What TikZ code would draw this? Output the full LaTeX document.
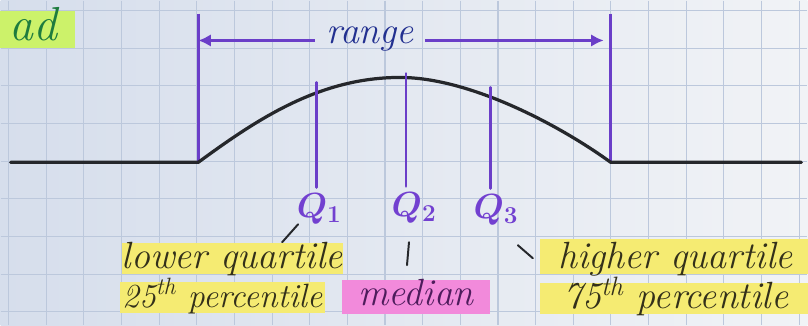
\documentclass[tikz,border=0pt]{standalone}
\usepackage{tikz}
\usetikzlibrary{positioning,arrows.meta,calc}
\definecolor{paper}{HTML}{F1F3F6}
\definecolor{paperdk}{HTML}{D6DEEC}
\definecolor{gridc}{HTML}{BCC8DC}
\definecolor{ink}{HTML}{25272B}
\definecolor{penviolet}{HTML}{6A3EC8}
\definecolor{qviolet}{HTML}{7240D0}
\definecolor{penblue}{HTML}{223090}
\definecolor{penolive}{HTML}{33301A}
\definecolor{penplum}{HTML}{4E1C5C}
\definecolor{pengreen}{HTML}{1E7C3E}
\definecolor{hlyellow}{HTML}{F5EB72}
\definecolor{hlpink}{HTML}{F28ADB}
\definecolor{hllime}{HTML}{CCF26A}
\tikzset{
  gridln/.style={draw=gridc, line width=0.8pt},
  curve/.style={draw=ink, line width=2.3pt, line cap=round, line join=round},
  rline/.style={draw=penviolet, line width=2.2pt},
  qline/.style={draw=penviolet, line width=2pt, line cap=round},
  rarrow/.style={-{Latex[length=9pt,width=9pt]}, draw=penviolet, line width=1.8pt},
  tick/.style={draw=ink, line width=1.4pt, line cap=round},
  hand/.style={font=\fontsize{27}{32}\selectfont\itshape},
  hl/.style={hand, fill=#1, text=penolive, anchor=base, inner xsep=0pt, inner ysep=0pt,
    text height=18pt, text depth=4pt},
  hl/.default=hlyellow,
  qlab/.style={text=qviolet, font=\fontsize{25}{30}\selectfont\boldmath, anchor=base west, inner sep=1pt},
}

\begin{document}
\begin{tikzpicture}[x=0.025cm,y=-0.025cm]
  % squared paper
  \shade[left color=paperdk, right color=paper] (0,0) rectangle (808,325);
  \foreach \i in {0,...,21}
    \draw[gridln] ({8+37.7*\i},0) -- ({8+37.7*\i},325);
  \foreach \j in {0,...,8}
    \draw[gridln] (0,{10+37.7*\j}) -- (808,{10+37.7*\j});
  \useasboundingbox (0,0) rectangle (808,325);

  % end of the heading
  \node[font=\fontsize{34}{40}\selectfont\itshape, fill=hllime, text=pengreen, anchor=base,
    minimum width=2.1cm, inner sep=0pt, text height=21pt, text depth=5pt] (head) at (33,40) {ad};

  % range
  \coordinate (lt) at (198,13);
  \coordinate (lb) at (198,162);
  \coordinate (rt) at (611,13);
  \coordinate (rb) at (611,162);
  \node[hand, text=penblue, anchor=base, inner xsep=8pt] (range) at (370,43) {range};
  \draw[rline] (lt) -- (lb);
  \draw[rline] (rt) -- (rb);
  \draw[rarrow] (range.mid west) -- (range.mid west -| lt);
  \draw[rarrow, shorten >=5pt] (range.mid east) -- (range.mid east -| rt);

  % the bump
  \draw[curve] (10,162) -- (lb) .. controls (258,118) and (320,77) .. (400,77)
    .. controls (470,77) and (560,125) .. (rb) -- (802,162);

  % quartiles
  \coordinate (c1) at (316,82);
  \coordinate (c2) at (406,73);
  \coordinate (c3) at (491,87);
  \node[qlab] (q1) at (295,217) {$Q_1$};
  \node[qlab] (q2) at (390,216) {$Q_2$};
  \node[qlab] (q3) at (472,218) {$Q_3$};
  \draw[qline, shorten >=3pt] (c1) -- (c1 |- q1.north);
  \draw[qline, shorten >=3pt] (c2) -- (c2 |- q2.north);
  \draw[qline, shorten >=3pt] (c3) -- (c3 |- q3.north);

  % highlighted labels
  \node[hl, minimum width=5.53cm] (lq1) at (232,268) {lower quartile};
  \node[hl, minimum width=5.13cm, font=\fontsize{24}{30}\selectfont\itshape] (lq2) at (222,307) {25\textsuperscript{th} percentile};
  \node[hl=hlpink, text=penplum, minimum width=3.68cm, text depth=6pt] (med) at (416,305) {median};
  \node[hl, minimum width=6.8cm, text height=21pt] (hq1) at (676,268) {higher quartile};
  \node[hl, minimum width=6.8cm] (hq2) at (676,308) {75\textsuperscript{th} percentile};

  % little ticks from Q to its name
  \coordinate (t1a) at (298,224);
  \coordinate (t1b) at (282,242);
  \coordinate (t2a) at (409,242);
  \coordinate (t2b) at (407,265);
  \coordinate (t3a) at (518,245);
  \coordinate (t3b) at (533,258);
  \draw[tick] (t1a) -- (t1b);
  \draw[tick] (t2a) -- (t2b);
  \draw[tick] (t3a) -- (t3b);
\end{tikzpicture}
\end{document}
